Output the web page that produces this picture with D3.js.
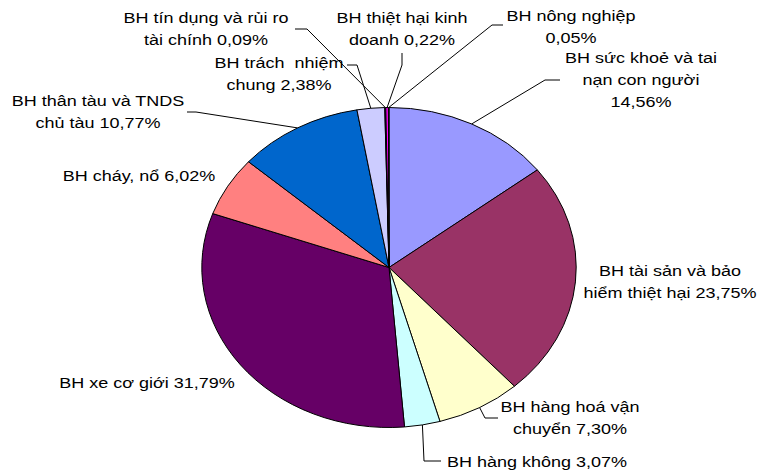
<!DOCTYPE html>
<html>
<head>
<meta charset="utf-8">
<script src="https://cdn.jsdelivr.net/npm/d3@7"></script>
<style>
  html, body { margin: 0; padding: 0; background: #fff; }
  text { font-family: "Liberation Sans", Arial, sans-serif; font-size: 15px; fill: #000; }
</style>
</head>
<body>
<svg id="chart" width="769" height="472"></svg>
<script>
// categories (label lines) and shares in %
const categories = [
  ["BH sức khoẻ và tai", "nạn con người", "14,56%"],
  ["BH tài sản và bảo", "hiểm thiệt hại 23,75%"],
  ["BH hàng hoá vận", "chuyển 7,30%"],
  ["BH hàng không 3,07%"],
  ["BH xe cơ giới 31,79%"],
  ["BH cháy, nổ 6,02%"],
  ["BH thân tàu và TNDS", "chủ tàu 10,77%"],
  ["BH trách  nhiệm", "chung 2,38%"],
  ["BH tín dụng và rủi ro", "tài chính 0,09%"],
  ["BH thiệt hại kinh", "doanh 0,22%"],
  ["BH nông nghiệp", "0,05%"]
];
const values = [14.56, 23.75, 7.30, 3.07, 31.79, 6.02, 10.77, 2.38, 0.09, 0.22, 0.05];

const colors = ["#9999FF", "#993366", "#FFFFCC", "#CCFFFF", "#660066", "#FF8080",
                "#0066CC", "#CCCCFF", "#000080", "#FF00FF", "#FFFF00"];

// label layout: text centre x, first baseline y, leader points after the slice edge
const labelLayout = [
  { x: 641, y: 63, leader: [[545, 80], [560, 80]] },
  { x: 670, y: 276, leader: null },
  { x: 570, y: 412, leader: [[485, 418], [498, 418]] },
  { x: 537, y: 467, leader: [[424, 461], [441, 461]] },
  { x: 147, y: 388, leader: null },
  { x: 139, y: 181, leader: null },
  { x: 98, y: 106, leader: [[196, 112], [187, 112]] },
  { x: 279, y: 68, leader: [[357, 65], [347, 65]] },
  { x: 206, y: 23, leader: [[307, 29], [295, 29]] },
  { x: 402, y: 23, leader: [[402, 65], [402, 53]] },
  { x: 571, y: 21, leader: [[492, 25], [503, 25]] }
];

const cx = 389, cy = 267.5, R = 160, sx = 1.17;
const lineH = 22, textScale = 1.2;

const svg = d3.select("#chart");

const pie = d3.pie().sort(null).value(d => d)(values);
const arc = d3.arc().innerRadius(0).outerRadius(R);

const g = svg.append("g")
  .attr("transform", `translate(${cx},${cy}) scale(${sx},1)`);

g.selectAll("path")
  .data(pie)
  .enter()
  .append("path")
  .attr("d", arc)
  .attr("fill", (d, i) => colors[i])
  .attr("stroke", "#000")
  .attr("stroke-width", 1)
  .attr("vector-effect", "non-scaling-stroke");

// leader lines
const line = d3.line();
pie.forEach((d, i) => {
  const lay = labelLayout[i];
  if (!lay.leader) return;
  const a = (d.startAngle + d.endAngle) / 2;
  const start = [cx + sx * R * Math.sin(a), cy - R * Math.cos(a)];
  svg.append("path")
    .attr("d", line([start, ...lay.leader]))
    .attr("fill", "none")
    .attr("stroke", "#000")
    .attr("stroke-width", 1);
});

// labels
categories.forEach((lines, i) => {
  const lay = labelLayout[i];
  const t = svg.append("text")
    .attr("text-anchor", "middle")
    .attr("transform", `translate(${lay.x},${lay.y}) scale(${textScale},1)`);
  lines.forEach((s, j) => {
    t.append("tspan")
      .attr("x", 0)
      .attr("y", j * lineH)
      .attr("xml:space", "preserve")
      .text(s);
  });
});
</script>
</body>
</html>
